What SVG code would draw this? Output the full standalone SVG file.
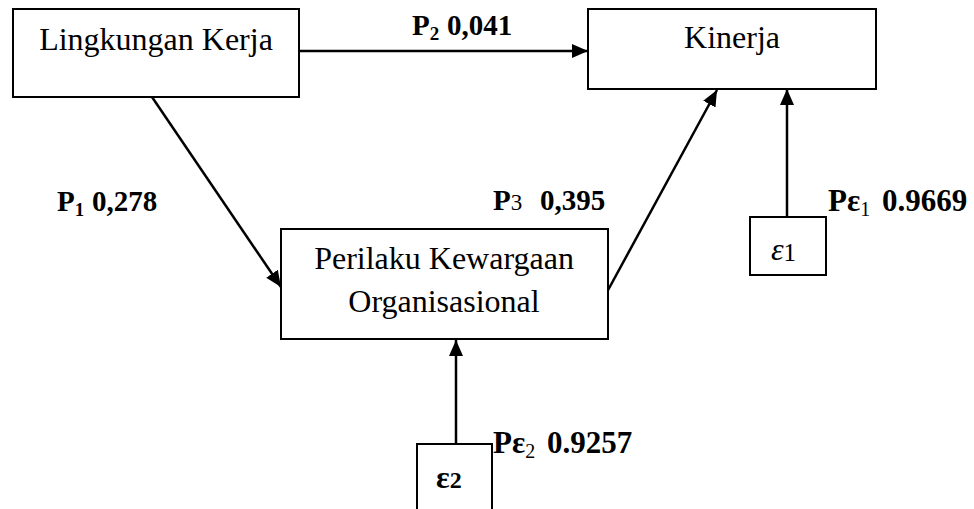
<svg xmlns="http://www.w3.org/2000/svg" width="974" height="509" viewBox="0 0 974 509">
<defs>
<style>
.box{fill:#fff;stroke:#000;stroke-width:2}
.node{font-family:"Liberation Serif","Times New Roman",serif;font-size:32px;fill:#000}
.lbl{font-family:"Liberation Serif","Times New Roman",serif;font-size:29px;font-weight:bold;fill:#000}
.lbl2{font-family:"Liberation Serif","Times New Roman",serif;font-size:31px;font-weight:bold;fill:#000}
.edge{stroke:#000;stroke-width:2.5;fill:none;marker-end:url(#ah)}
</style>
<marker id="ah" markerUnits="userSpaceOnUse" markerWidth="16" markerHeight="16" viewBox="0 0 16 16" refX="16" refY="8" orient="auto">
<path d="M0,1 L16,8 L0,15 Z" fill="#000"/>
</marker>
</defs>
<rect width="974" height="509" fill="#fff"/>
<g id="connectors">
<line class="edge" x1="299" y1="51" x2="588" y2="51"/>
<line class="edge" x1="152" y1="97" x2="281" y2="287"/>
<line class="edge" x1="607" y1="292" x2="717" y2="90"/>
<line class="edge" x1="787" y1="217" x2="787" y2="89"/>
<line class="edge" x1="456" y1="444" x2="456" y2="340"/>
</g>
<g id="lingkungan">
<rect class="box" x="13" y="9" width="286" height="88"/>
<text class="node" x="156" y="50" text-anchor="middle">Lingkungan Kerja</text>
</g>
<g id="kinerja">
<rect class="box" x="588" y="9" width="288" height="80"/>
<text class="node" x="732" y="48" text-anchor="middle">Kinerja</text>
</g>
<g id="perilaku">
<rect class="box" x="281" y="229" width="327" height="110"/>
<text class="node" x="444" y="269" text-anchor="middle">Perilaku Kewargaan</text>
<text class="node" x="444" y="312" text-anchor="middle">Organisasional</text>
</g>
<g id="e1">
<rect class="box" x="750" y="217" width="76" height="58"/>
<text class="node" x="771" y="260" font-size="34"><tspan font-style="italic">ε</tspan><tspan font-size="25" dy="1">1</tspan></text>
</g>
<g id="e2">
<rect class="box" x="417" y="444" width="75" height="80"/>
<text class="node" x="436" y="488" font-size="32" font-weight="bold">ε<tspan font-size="24">2</tspan></text>
</g>
<g id="labels">
<text class="lbl" x="412" y="35">P<tspan font-size="19" dy="5">2</tspan><tspan x="447" dy="-5">0,041</tspan></text>
<text class="lbl" x="57" y="211">P<tspan font-size="19" dy="5">1</tspan><tspan x="92" dy="-5">0,278</tspan></text>
<text class="lbl" x="493" y="210">P<tspan font-size="23" font-weight="normal">3</tspan><tspan x="540">0,395</tspan></text>
<text class="lbl2" x="828" y="211">Pε<tspan font-size="20" dy="5" font-weight="normal">1</tspan><tspan x="882" dy="-5">0.9669</tspan></text>
<text class="lbl2" x="493" y="453">Pε<tspan font-size="20" dy="5" font-weight="normal">2</tspan><tspan x="547" dy="-5">0.9257</tspan></text>
</g>
</svg>
